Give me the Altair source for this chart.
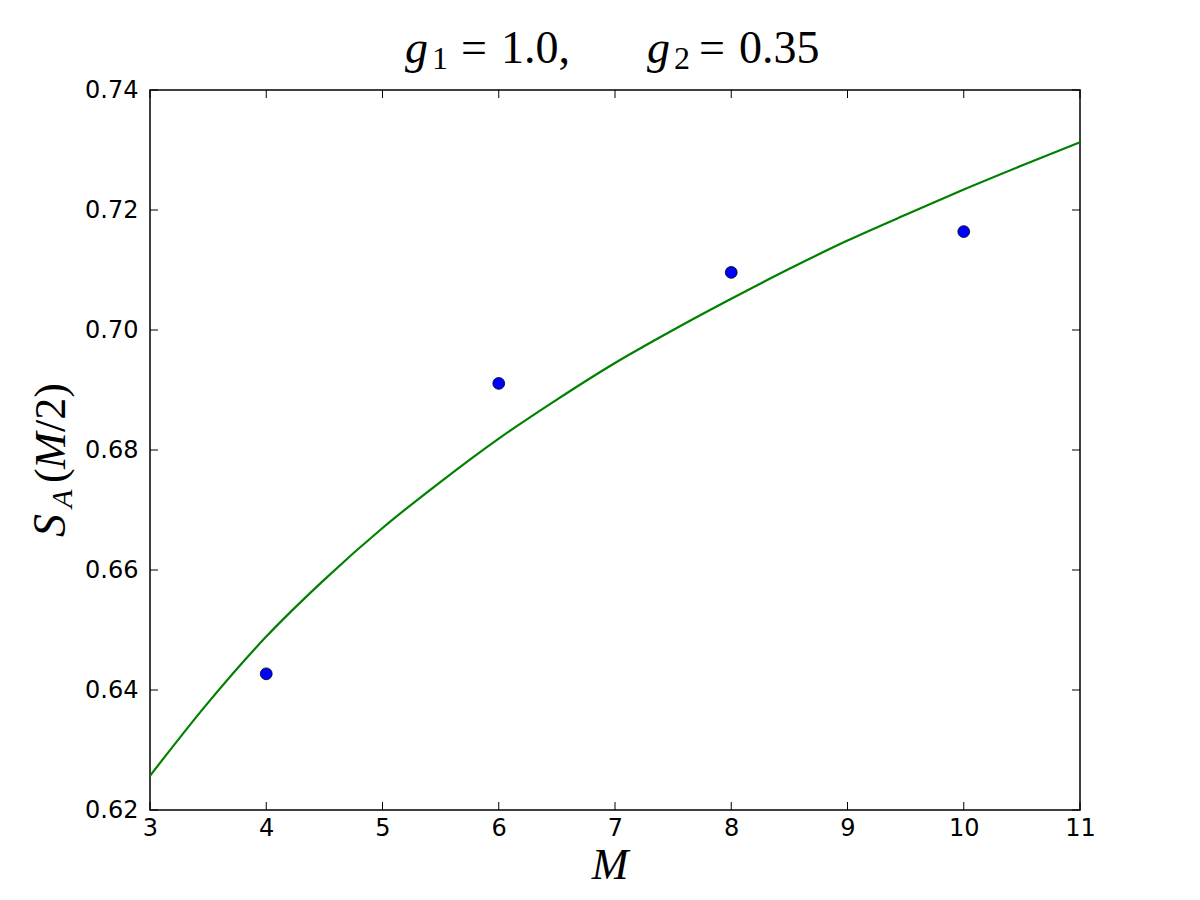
import altair as alt
import pandas as pd

# ---- data ----
M_points = [4, 6, 8, 10]
S_points = [0.6427, 0.6911, 0.7096, 0.7164]

M_curve = [3.0, 3.5, 4.0, 4.5, 5.0, 5.5, 6.0, 6.5, 7.0, 7.5, 8.0, 8.5, 9.0, 9.5, 10.0, 10.5, 11.0]
S_curve = [0.6257, 0.6379, 0.6489, 0.6584, 0.6670, 0.6747, 0.6819, 0.6884, 0.6945,
           0.7000, 0.7052, 0.7102, 0.7149, 0.7192, 0.7234, 0.7274, 0.7313]

x_ticks = [3, 4, 5, 6, 7, 8, 9, 10, 11]
y_ticks = [0.62, 0.64, 0.66, 0.68, 0.70, 0.72, 0.74]

W, H = 930, 720
SERIF = "Liberation Serif"
SANS = "DejaVu Sans"

pts = pd.DataFrame({"M": M_points, "S": S_points})
crv = pd.DataFrame({"M": M_curve, "S": S_curve})
xt = pd.DataFrame({"v": x_ticks})
yt = pd.DataFrame({"v": y_ticks})

xscale = alt.Scale(domain=[3, 11], nice=False, zero=False)
yscale = alt.Scale(domain=[0.62, 0.74], nice=False, zero=False)

xaxis = alt.Axis(values=x_ticks, format="d", title=None, ticks=False, domain=False,
                 grid=False, labelFont=SANS, labelFontSize=24, labelColor="black",
                 labelPadding=6, labelFlush=False)
yaxis = alt.Axis(values=y_ticks, format=".2f", title=None, ticks=False, domain=False,
                 grid=False, labelFont=SANS, labelFontSize=24, labelColor="black",
                 labelPadding=12)

line = alt.Chart(crv).mark_line(color="#008000", strokeWidth=2.2, interpolate="monotone").encode(
    x=alt.X("M:Q", scale=xscale, axis=xaxis),
    y=alt.Y("S:Q", scale=yscale, axis=yaxis),
)

points = alt.Chart(pts).mark_point(filled=True, shape="circle", size=140, fill="#0000ff",
                                   stroke="black", strokeWidth=0.8, opacity=1).encode(
    x=alt.X("M:Q", scale=xscale),
    y=alt.Y("S:Q", scale=yscale),
)

tick_style = dict(color="black", strokeWidth=1)
TL = 8
bottom_ticks = alt.Chart(xt).mark_rule(**tick_style).encode(
    x=alt.X("v:Q", scale=xscale), y=alt.value(H), y2=alt.value(H - TL))
top_ticks = alt.Chart(xt).mark_rule(**tick_style).encode(
    x=alt.X("v:Q", scale=xscale), y=alt.value(0), y2=alt.value(TL))
left_ticks = alt.Chart(yt).mark_rule(**tick_style).encode(
    y=alt.Y("v:Q", scale=yscale), x=alt.value(0), x2=alt.value(TL))
right_ticks = alt.Chart(yt).mark_rule(**tick_style).encode(
    y=alt.Y("v:Q", scale=yscale), x=alt.value(W), x2=alt.value(W - TL))


def txt(s, x, y, size, italic=False, angle=0, align="left"):
    kw = dict(font=SERIF, fontSize=size, align=align, baseline="alphabetic", color="black")
    if italic:
        kw["fontStyle"] = "italic"
    if angle:
        kw["angle"] = angle
    return alt.Chart(pd.DataFrame({"t": [s]})).mark_text(**kw).encode(
        x=alt.value(x), y=alt.value(y), text="t:N")


# title pieces: g_1 =1.0,   g_2 =0.35
title_parts = [
    txt("g", 255, -27, 46, italic=True),
    txt("1", 282, -21, 32),
    txt("=", 311, -27, 46),
    txt("1.0,", 351, -27, 46),
    txt("g", 497, -27, 46, italic=True),
    txt("2", 524, -21, 32),
    txt("=", 549, -27, 46),
    txt("0.35", 589, -27, 46),
]

# x label M
xlabel = [txt("M", 460, 789, 44, italic=True, align="center")]

# y label S_A (M/2), rotated
ylabel = [
    txt("S", -85, 447, 46, italic=True, angle=270),
    txt("A", -78, 418, 30, italic=True, angle=270),
    txt("(", -85, 393, 44, angle=270),
    txt("M", -85, 379, 44, italic=True, angle=270),
    txt("/2)", -85, 342, 44, angle=270),
]

chart = alt.layer(
    line, points, bottom_ticks, top_ticks, left_ticks, right_ticks,
    *title_parts, *xlabel, *ylabel,
).properties(
    width=W, height=H,
    autosize=alt.AutoSizeParams(type="none"),
    padding={"left": 150, "top": 90, "right": 120, "bottom": 90},
).configure(
    background="white"
).configure_view(
    stroke="black", strokeWidth=1.5
)

chart.save("out.html", embed_options={"renderer": "svg", "actions": False})
